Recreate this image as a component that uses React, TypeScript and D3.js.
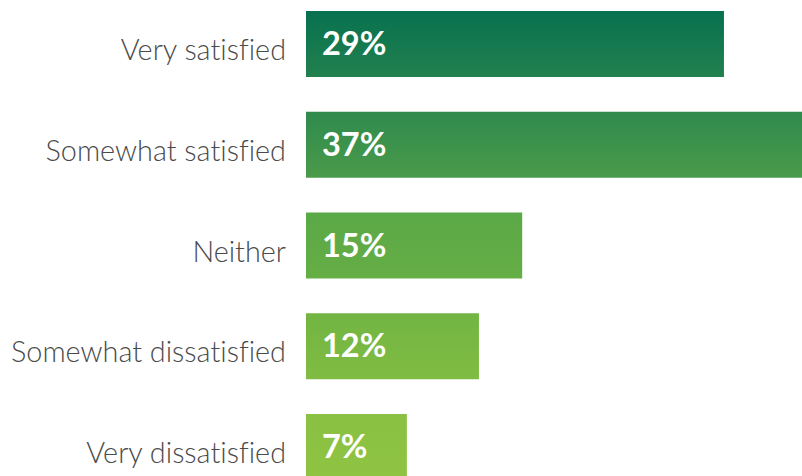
import React from "react";
import * as d3 from "d3";

const categories: string[] = [
  "Very satisfied",
  "Somewhat satisfied",
  "Neither",
  "Somewhat dissatisfied",
  "Very dissatisfied",
];
const values: number[] = [29, 37, 15, 12, 7];
const valueLabels: string[] = ["29%", "37%", "15%", "12%", "7%"];
const topColors: string[] = ["#077150", "#2f8a4d", "#5aa847", "#72b543", "#8ac143"];
const bottomColors: string[] = ["#22804e", "#4a9b4a", "#66ae45", "#80bc42", "#8fc342"];

const W = 802;
const H = 476;

export default function App() {
  const x = d3.scaleLinear().domain([0, 40]).range([306, 306 + 576.5]);
  const y = d3
    .scaleBand<string>()
    .domain(categories)
    .range([11, 480])
    .paddingInner(0.345)
    .paddingOuter(0);
  const bw = y.bandwidth();
  return (
    <div style={{ position: "absolute", left: 0, top: 0, width: W, height: H, overflow: "hidden", background: "#fff" }}>
      <svg width={W} height={H} style={{ display: "block" }}>
        <defs>
          {categories.map((c, i) => (
            <linearGradient key={c} id={`g${i}`} x1="0" y1="0" x2="0" y2="1">
              <stop offset="0" stopColor={topColors[i]} />
              <stop offset="1" stopColor={bottomColors[i]} />
            </linearGradient>
          ))}
        </defs>
        {categories.map((c, i) => {
          const y0 = y(c)!;
          const cy = y0 + bw / 2;
          return (
            <g key={c}>
              <rect x={x(0)} y={y0} width={x(values[i]) - x(0)} height={bw} fill={`url(#g${i})`} />
              <text
                x={286}
                y={cy + 16}
                textAnchor="end"
                fontFamily="Lato, sans-serif"
                fontWeight={300}
                fontSize={28.8}
                fill="#4a4a4a"
                style={{ fontVariantLigatures: "none" }}
              >
                {c}
              </text>
              <text
                x={x(0) + 16}
                y={cy + 11}
                fontFamily="Lato, sans-serif"
                fontWeight={700}
                fontSize={32.5}
                fill="#ffffff"
              >
                {valueLabels[i]}
              </text>
            </g>
          );
        })}
      </svg>
    </div>
  );
}
